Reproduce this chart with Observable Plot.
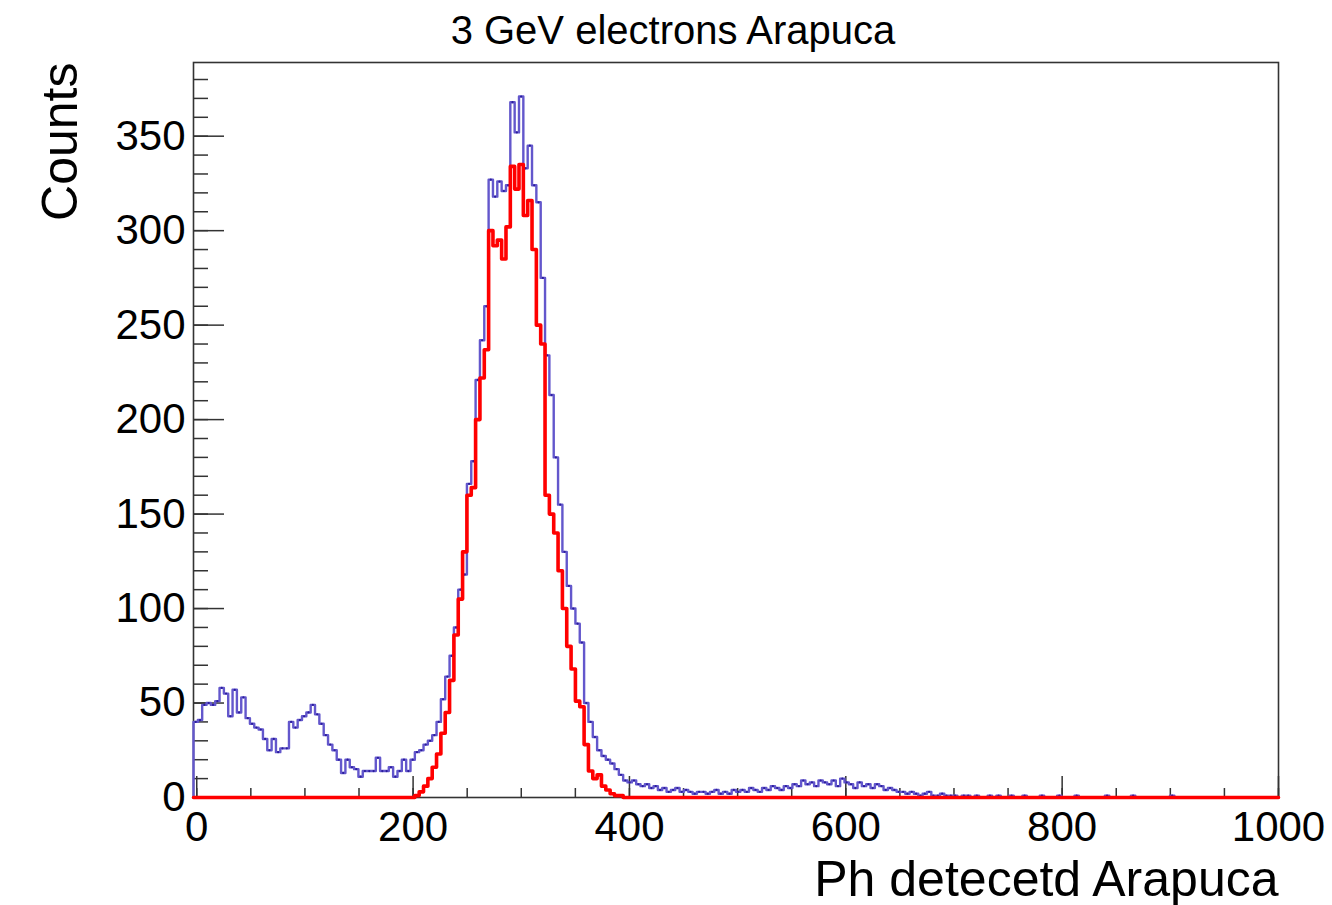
<!DOCTYPE html>
<html><head><meta charset="utf-8">
<script src="https://cdn.jsdelivr.net/npm/d3@7"></script>
<script src="https://cdn.jsdelivr.net/npm/@observablehq/plot@0.6"></script>
<style>html,body{margin:0;padding:0;background:#fff;overflow:hidden}</style>
</head><body><div id="chart"></div>
<script>
const title = "3 GeV electrons Arapuca";
const xLabel = "Ph detecetd Arapuca";
const yLabel = "Counts";
const xMin = -3, xMax = 1000, nBins = 250;
const yMax = 389;
const xTickLabels = [0, 200, 400, 600, 800, 1000];
const xMinorTicks = [0,50,100,150,200,250,300,350,400,450,500,550,600,650,700,750,800,850,900,950,1000];
const yTickLabels = [0, 50, 100, 150, 200, 250, 300, 350];
const yMinorTicks = [0,10,20,30,40,50,60,70,80,90,100,110,120,130,140,150,160,170,180,190,200,210,220,230,240,250,260,270,280,290,300,310,320,330,340,350,360,370,380];

// Blue histogram: counts per bin (250 bins over the x range)
const blueCounts = [
  40, 41, 49, 50, 49, 51, 58, 55, 43, 57,
  45, 53, 42, 39, 37, 36, 31, 25, 31, 24,
  26, 26, 40, 37, 41, 43, 45, 49, 44, 39,
  33, 28, 25, 20, 13, 20, 16, 15, 11, 14,
  14, 14, 21, 14, 14, 16, 11, 14, 20, 14,
  20, 24, 25, 28, 30, 33, 40, 52, 64, 75,
  90, 110, 118, 166, 178, 221, 242, 260, 327, 318,
  326, 321, 324, 368, 352, 371, 333, 345, 324, 315,
  275, 234, 213, 180, 155, 130, 112, 100, 92, 82,
  50, 40, 32, 25, 22, 20, 18, 15, 12, 9,
  8, 9, 7, 6, 7, 5, 6, 4, 5, 3,
  4, 5, 3, 4, 3, 2, 3, 3, 2, 3,
  4, 2, 3, 2, 4, 3, 4, 3, 5, 4,
  3, 5, 4, 6, 5, 4, 6, 5, 7, 6,
  9, 7, 8, 6, 9, 8, 7, 9, 6, 10,
  8, 7, 5, 8, 6, 7, 5, 7, 6, 4,
  5, 4, 3, 3, 2, 3, 2, 1, 2, 3,
  1, 1, 2, 1, 1, 1, 0, 1, 1, 0,
  1, 0, 0, 1, 0, 1, 0, 0, 1, 0,
  0, 1, 0, 0, 0, 1, 0, 0, 0, 1,
  0, 0, 0, 1, 0, 0, 0, 0, 0, 0,
  1, 0, 0, 0, 0, 0, 1, 0, 0, 0,
  0, 0, 0, 0, 0, 1, 0, 0, 0, 0,
  0, 0, 0, 0, 0, 0, 0, 0, 0, 0,
  0, 0, 0, 0, 0, 0, 0, 0, 0, 0
];

// Red histogram: non-zero bins start at redFirstBin, all others are zero
const redFirstBin = 51;
const redCounts = [
  1, 3, 6, 10, 16, 23, 34, 45, 62, 86,
  105, 130, 160, 164, 200, 222, 237, 300, 292, 295,
  285, 302, 334, 322, 335, 308, 316, 290, 250, 240,
  160, 150, 140, 120, 100, 80, 68, 51, 48, 28,
  14, 10, 12, 6, 4, 2, 1, 1
];

const binW = (xMax - xMin) / nBins;
const edge = i => xMin + i * binW;
function stepPoints(counts) {
  const pts = [{x: xMin, y: 0}];
  counts.forEach((c, i) => { pts.push({x: edge(i), y: c}, {x: edge(i + 1), y: c}); });
  pts.push({x: xMax, y: 0});
  return pts;
}
const redFull = Array.from({length: nBins}, (_, i) => {
  const k = i - redFirstBin;
  return k >= 0 && k < redCounts.length ? redCounts[k] : 0;
});
const bluePts = stepPoints(blueCounts);
const redPts = stepPoints(redFull);
const blueCenters = blueCounts.map((c, i) => ({x: edge(i) + binW / 2, y: c})).filter(d => d.y > 0);

const mL = 193, mR = 54, mT = 62, mB = 108, W = 1332, H = 905;
const fw = W - mL - mR, fh = H - mT - mB;
const ink = "#333";

const chart = Plot.plot({
  width: W, height: H,
  marginLeft: mL, marginRight: mR, marginTop: mT, marginBottom: mB,
  style: {fontFamily: "'Liberation Sans', Arial, Helvetica, sans-serif", background: "#fff", color: "#000"},
  x: {domain: [xMin, xMax]},
  y: {domain: [0, yMax]},
  marks: [
    Plot.frame({stroke: ink, strokeWidth: 1.6}),
    Plot.tickY(yMinorTicks, {y: d => d, insetRight: fw - 15, stroke: ink, strokeWidth: 1.5}),
    Plot.tickY(yTickLabels, {y: d => d, insetRight: fw - 31, stroke: ink, strokeWidth: 1.5}),
    Plot.tickX(xMinorTicks, {x: d => d, insetTop: fh - 9, stroke: ink, strokeWidth: 1.5}),
    Plot.tickX(xTickLabels, {x: d => d, insetTop: fh - 21, stroke: ink, strokeWidth: 1.5}),
    Plot.line(bluePts, {x: "x", y: "y", stroke: "#6357cc", strokeWidth: 2.4, curve: "linear"}),
    Plot.dot(blueCenters, {x: "x", y: "y", r: 1.1, fill: "#2a1c9c", stroke: null}),
    Plot.line(redPts, {x: "x", y: "y", stroke: "#ff0000", strokeWidth: 3.6, curve: "linear"}),
    Plot.axisX({ticks: xTickLabels, tickSize: 0, tickPadding: 14, fontSize: 42, label: null, tickFormat: d => String(d)}),
    Plot.axisY({ticks: yTickLabels, tickSize: 0, tickPadding: 8, fontSize: 42, label: null, tickFormat: d => String(d)}),
    Plot.text([title], {text: d => d, frameAnchor: "top", dx: -63, dy: -47, fontSize: 40, fill: "#000"}),
    Plot.text([yLabel], {text: d => d, frameAnchor: "top-left", rotate: -90, textAnchor: "end", dx: -152, fontSize: 50, fill: "#000"}),
    Plot.text([xLabel], {text: d => d, frameAnchor: "bottom-right", textAnchor: "end", dy: 98, fontSize: 50, fill: "#000"})
  ]
});
document.getElementById("chart").appendChild(chart);
</script>
</body></html>
